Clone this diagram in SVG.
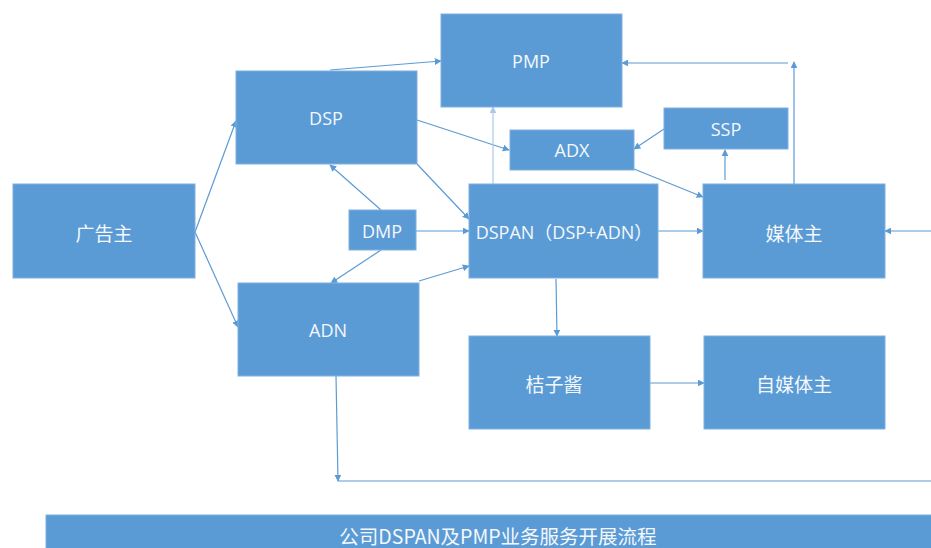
<svg xmlns="http://www.w3.org/2000/svg" width="931" height="548" viewBox="0 0 931 548">
  <style>
    .box { fill: #5b9bd5; stroke: #7fb0df; stroke-width: 1; }
    .lbl { fill: #f4f8fc; font-family: "Open Sans", "Liberation Sans", "Noto Sans CJK SC", sans-serif; font-size: 18px; text-anchor: middle; dominant-baseline: central; }
    .cjk { font-family: "Noto Sans CJK SC", "Noto Sans", sans-serif; font-size: 19px; }
    .title { font-size: 19.5px; }
    .edge { fill: none; stroke: #5b9bd5; stroke-width: 1.2; marker-end: url(#arr); }
    .edge.faint { stroke: #a9c9ec; marker-end: url(#arrFaint); }
    .plain { fill: none; stroke: #5b9bd5; stroke-width: 1.2; }
  </style>
  <defs>
    <marker id="arr" viewBox="0 0 10 10" refX="9" refY="5" markerWidth="7" markerHeight="7" markerUnits="userSpaceOnUse" orient="auto">
      <path d="M0,0 L10,5 L0,10 z" fill="#5b9bd5"/>
    </marker>
    <marker id="arrFaint" viewBox="0 0 10 10" refX="9" refY="5" markerWidth="7" markerHeight="7" markerUnits="userSpaceOnUse" orient="auto">
      <path d="M0,0 L10,5 L0,10 z" fill="#a9c9ec"/>
    </marker>
  </defs>
  <rect width="931" height="548" fill="#ffffff"/>

  <g id="connectors">
    <path class="edge" d="M195,232 L236,121"/>
    <path class="edge" d="M195,232 L238,327"/>
    <path class="edge" d="M330,70 L441,61"/>
    <path class="edge" d="M417,120 L509,150"/>
    <path class="edge" d="M417,164 L469,219"/>
    <path class="edge" d="M381,210 L330,165"/>
    <path class="edge" d="M381,250 L331,283"/>
    <path class="edge" d="M416,231 L469,231"/>
    <path class="edge" d="M419,281 L469,266"/>
    <path class="edge faint" d="M493,184 L493,107"/>
    <path class="edge" d="M634,169 L703,197"/>
    <path class="edge" d="M664,129 L634,149"/>
    <path class="edge" d="M725,180 L725,150"/>
    <path class="edge" d="M794,184 L794,62"/>
    <path class="edge" d="M788,63 L622,63"/>
    <path class="edge" d="M658,231 L703,231"/>
    <path class="edge" d="M931,231 L885,231"/>
    <path class="edge" d="M556,279 L557,336"/>
    <path class="edge" d="M650,383 L704,383"/>
    <path class="edge" d="M336,376 L338,481"/>
    <path class="plain" d="M338,481 L931,481"/>
  </g>

  <g id="advertiser">
    <rect class="box" x="13" y="184" width="182" height="94"/>
    <text class="lbl cjk" x="104" y="232">广告主</text>
  </g>
  <g id="dsp">
    <rect class="box" x="236" y="71" width="181" height="93"/>
    <text class="lbl" x="326" y="118">DSP</text>
  </g>
  <g id="pmp">
    <rect class="box" x="441" y="14" width="181" height="93"/>
    <text class="lbl" x="531" y="61">PMP</text>
  </g>
  <g id="adx">
    <rect class="box" x="510" y="130" width="124" height="40"/>
    <text class="lbl" x="572" y="150">ADX</text>
  </g>
  <g id="ssp">
    <rect class="box" x="664" y="108" width="124" height="41"/>
    <text class="lbl" x="726" y="129">SSP</text>
  </g>
  <g id="dmp">
    <rect class="box" x="349" y="210" width="67" height="40"/>
    <text class="lbl" x="382" y="231">DMP</text>
  </g>
  <g id="dspan">
    <rect class="box" x="469" y="184" width="189" height="94"/>
    <text class="lbl" x="564" y="232">DSPAN（DSP+ADN）</text>
  </g>
  <g id="media-owner">
    <rect class="box" x="703" y="184" width="182" height="94"/>
    <text class="lbl cjk" x="794" y="232">媒体主</text>
  </g>
  <g id="adn">
    <rect class="box" x="238" y="283" width="181" height="93"/>
    <text class="lbl" x="328" y="330">ADN</text>
  </g>
  <g id="juzijiang">
    <rect class="box" x="469" y="336" width="181" height="93"/>
    <text class="lbl cjk" x="554" y="383">桔子酱</text>
  </g>
  <g id="self-media">
    <rect class="box" x="704" y="336" width="181" height="93"/>
    <text class="lbl cjk" x="794" y="383">自媒体主</text>
  </g>
  <g id="title-bar">
    <rect class="box" x="46" y="515" width="890" height="40"/>
    <text class="lbl cjk title" x="498" y="535">公司DSPAN及PMP业务服务开展流程</text>
  </g>
</svg>
